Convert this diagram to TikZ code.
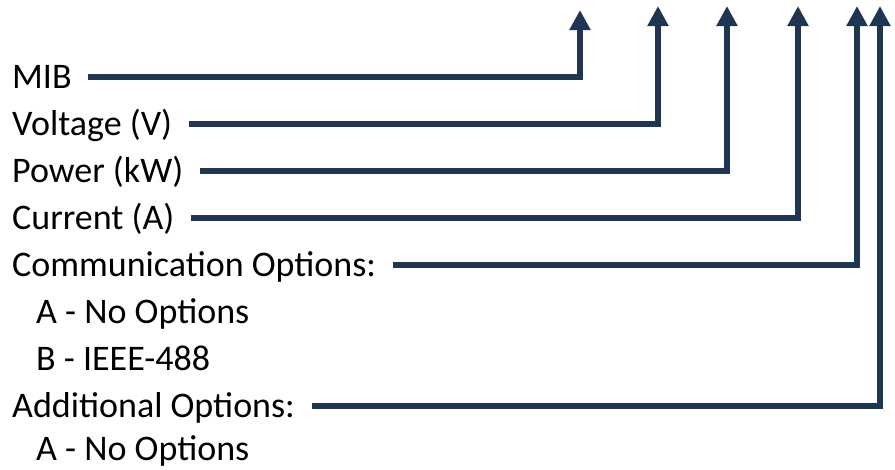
\documentclass[tikz,border=0pt]{standalone}
\usepackage{fontspec}
\setmainfont{Carlito}
\usetikzlibrary{arrows.meta}
\definecolor{navy}{HTML}{1F3652}
\tikzset{
  lbl/.style={anchor=base west, inner xsep=0pt, inner ysep=0pt, font=\fontsize{36}{42}\selectfont, text=black},
  conn/.style={draw=navy, line width=6pt, -{Triangle[width=20pt,length=20pt]}},
}
\begin{document}
\begin{tikzpicture}[x=1pt,y=-1pt]
\useasboundingbox (0,0) rectangle (895,469);
% labels (baselines)
\node[lbl] (mib)  at (12,88)  {MIB};
\node[lbl] (volt) at (12,135) {Voltage (V)};
\node[lbl] (pow)  at (12,182) {Power (kW)};
\node[lbl] (cur)  at (12,229) {Current (A)};
\node[lbl] (com)  at (12,276) {Communication Options:};
\node[lbl] (coma) at (36,323) {A - No Options};
\node[lbl] (comb) at (36,370) {B - IEEE-488};
\node[lbl] (add)  at (12,417) {Additional Options:};
\node[lbl] (adda) at (36,460) {A - No Options};
% arrow tips
\coordinate (t1) at (580,10);
\coordinate (t2) at (658,6);
\coordinate (t3) at (727,6);
\coordinate (t4) at (798,6);
\coordinate (t5) at (857,6);
\coordinate (t6) at (880,6);
% connectors
\draw[conn] ([xshift=16pt,yshift=11pt]mib.base east) -| (t1);
\draw[conn] ([xshift=17pt,yshift=11pt]volt.base east) -| (t2);
\draw[conn] ([xshift=17pt,yshift=11pt]pow.base east) -| (t3);
\draw[conn] ([xshift=17pt,yshift=11pt]cur.base east) -| (t4);
\draw[conn] ([xshift=17pt,yshift=11pt]com.base east) -| (t5);
\draw[conn] ([xshift=17pt,yshift=11pt]add.base east) -| (t6);
\end{tikzpicture}
\end{document}
